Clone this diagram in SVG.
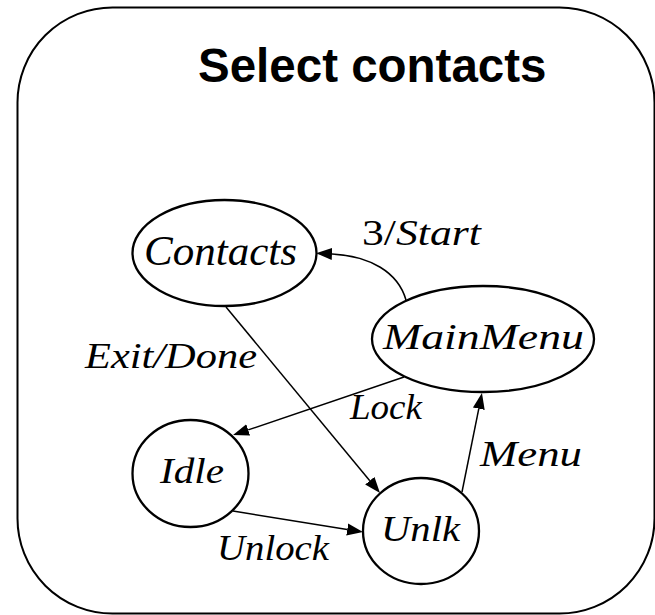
<svg xmlns="http://www.w3.org/2000/svg" width="655" height="615" viewBox="0 0 655 615">
<style>
.frame{fill:none;stroke:#000;stroke-width:2}
.node{fill:#fff;stroke:#000;stroke-width:2.3}
.edge{fill:none;stroke:#000;stroke-width:1.5}
.lbl{font-family:"Liberation Serif","DejaVu Serif","Times New Roman",serif;font-style:italic;fill:#000;text-anchor:middle}
.title{font-family:"Liberation Sans",Arial,sans-serif;font-weight:bold;font-size:47.5px;fill:#000}
</style>
<defs>
<marker id="arr" markerUnits="userSpaceOnUse" markerWidth="18" markerHeight="14" refX="0" refY="6" orient="auto" viewBox="0 0 18 12">
<path d="M0,0 L16,6 L0,12 z" fill="#000"/>
</marker>
</defs>
<rect class="frame" x="17.5" y="7.5" width="637" height="606" rx="95" ry="95"/>
<text class="title" x="198" y="82">Select contacts</text>
<g id="connectors">
<path class="edge" d="M406,300 C398,272 370,256 332,254" marker-end="url(#arr)"/>
<path class="edge" d="M226,307 L369.8,480.7" marker-end="url(#arr)"/>
<path class="edge" d="M404,377 L248.2,429.9" marker-end="url(#arr)"/>
<path class="edge" d="M462,492 L478.8,408.7" marker-end="url(#arr)"/>
<path class="edge" d="M233,511 L347.2,529.5" marker-end="url(#arr)"/>
<text class="lbl" x="421.5" y="245" font-size="35" textLength="119" lengthAdjust="spacingAndGlyphs"><tspan font-style="normal">3/</tspan>Start</text>
<text class="lbl" x="171" y="368" font-size="35" textLength="172" lengthAdjust="spacingAndGlyphs">Exit/Done</text>
<text class="lbl" x="386" y="419" font-size="35" textLength="72" lengthAdjust="spacingAndGlyphs">Lock</text>
<text class="lbl" x="531" y="466" font-size="35" textLength="102" lengthAdjust="spacingAndGlyphs">Menu</text>
<text class="lbl" x="273" y="560" font-size="35" textLength="112" lengthAdjust="spacingAndGlyphs">Unlock</text>
</g>
<g id="node-contacts">
<ellipse class="node" cx="224.5" cy="253" rx="92" ry="53"/>
<text class="lbl" x="220.5" y="265" font-size="42" textLength="153" lengthAdjust="spacingAndGlyphs">Contacts</text>
</g>
<g id="node-mainmenu">
<ellipse class="node" cx="483" cy="339" rx="111" ry="53"/>
<text class="lbl" x="483.5" y="349" font-size="36" textLength="201" lengthAdjust="spacingAndGlyphs">MainMenu</text>
</g>
<g id="node-idle">
<ellipse class="node" cx="190.5" cy="473.5" rx="58" ry="53.5"/>
<text class="lbl" x="192" y="483" font-size="35" textLength="64" lengthAdjust="spacingAndGlyphs">Idle</text>
</g>
<g id="node-unlk">
<ellipse class="node" cx="421" cy="531" rx="58" ry="53"/>
<text class="lbl" x="420.5" y="541" font-size="35" textLength="79" lengthAdjust="spacingAndGlyphs">Unlk</text>
</g>
</svg>
